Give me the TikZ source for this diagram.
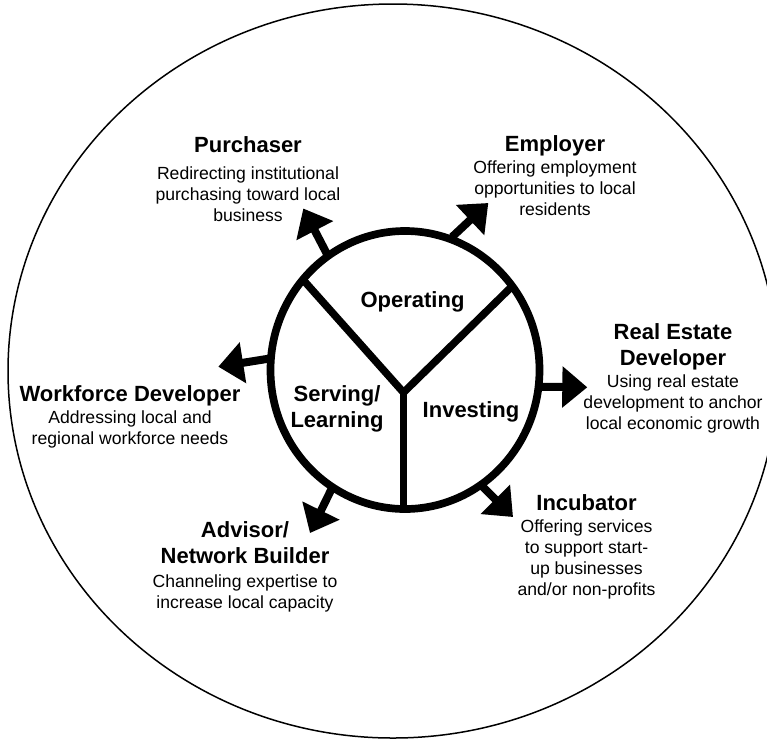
\documentclass[tikz,border=0pt]{standalone}
\usepackage{fontspec}
\setmainfont{Liberation Sans}
\usetikzlibrary{arrows.meta}
\begin{document}
\begin{tikzpicture}[x=1pt,y=-1pt,
  title/.style={font=\fontsize{22}{26.5}\selectfont\bfseries, align=center, anchor=north, inner sep=0pt},
  desc/.style={font=\fontsize{17.6}{21}\selectfont, align=center, anchor=north, inner sep=0pt},
  rolearrow/.style={line width=8pt, -{Triangle[width=40pt,length=25pt]}},
  ring/.style={line width=7.7pt},
  spoke/.style={line width=7.5pt, line join=miter},
]
\useasboundingbox (0,0) rectangle (767,740);
% outer ellipse
\draw[line width=1.5pt] (393,371) ellipse [x radius=385pt, y radius=367pt];
% inner circle
\coordinate (c) at (405,370);
\draw[ring] (c) ellipse [x radius=134.5pt, y radius=139pt];
% Y spokes
\coordinate (y0) at (403.5,392.5);
\coordinate (yl) at (303.3,280);
\coordinate (yr) at (510,288.3);
\coordinate (yb) at (403.5,509);
\draw[spoke] (yl) -- (y0) -- (yr);
\draw[spoke] (y0) -- (yb);
% inner labels
\node[title] (op) at (412.5,291.5) {Operating};
\node[title] (sl) at (337,384.9) {Serving/\\Learning};
\node[title] (inv) at (471,401.5) {Investing};
% arrows
\coordinate (pa1) at (328,256); \coordinate (pa2) at (303.3,208.5);
\coordinate (ea1) at (452,237); \coordinate (ea2) at (488.3,203);
\coordinate (wa1) at (271,358.3); \coordinate (wa2) at (218.3,366.7);
\coordinate (ra1) at (538.5,386.7); \coordinate (ra2) at (587.3,387.3);
\coordinate (aa1) at (333,486); \coordinate (aa2) at (310,533);
\coordinate (ia1) at (480,484); \coordinate (ia2) at (513,517);
\draw[rolearrow] (pa1) -- (pa2);
\draw[rolearrow] (ea1) -- (ea2);
\draw[rolearrow] (wa1) -- (wa2);
\draw[rolearrow] (ra1) -- (ra2);
\draw[rolearrow] (aa1) -- (aa2);
\draw[rolearrow] (ia1) -- (ia2);
% role texts
\node[title] (pt) at (248,136.5) {Purchaser};
\node[desc] (pd) at (248,166.7) {Redirecting institutional\\purchasing toward local\\business};
\node[title] (et) at (555,134.9) {Employer};
\node[desc] (ed) at (555,160.1) {Offering employment\\opportunities to local\\residents};
\node[title] (wt) at (130,385.2) {Workforce Developer};
\node[desc] (wd) at (130,410.7) {Addressing local and\\regional workforce needs};
\node[title] (rt) at (673,323.2) {Real Estate\\Developer};
\node[desc] (rd) at (673,374.7) {Using real estate\\development to anchor\\local economic growth};
\node[title] (it) at (586.5,494.2) {Incubator};
\node[desc] (id) at (586.5,519.1) {Offering services\\to support start-\\up businesses\\and/or non-profits};
\node[title] (at) at (245,520.9) {Advisor/\\Network Builder};
\node[desc] (ad) at (245,574.1) {Channeling expertise to\\increase local capacity};
\end{tikzpicture}
\end{document}
